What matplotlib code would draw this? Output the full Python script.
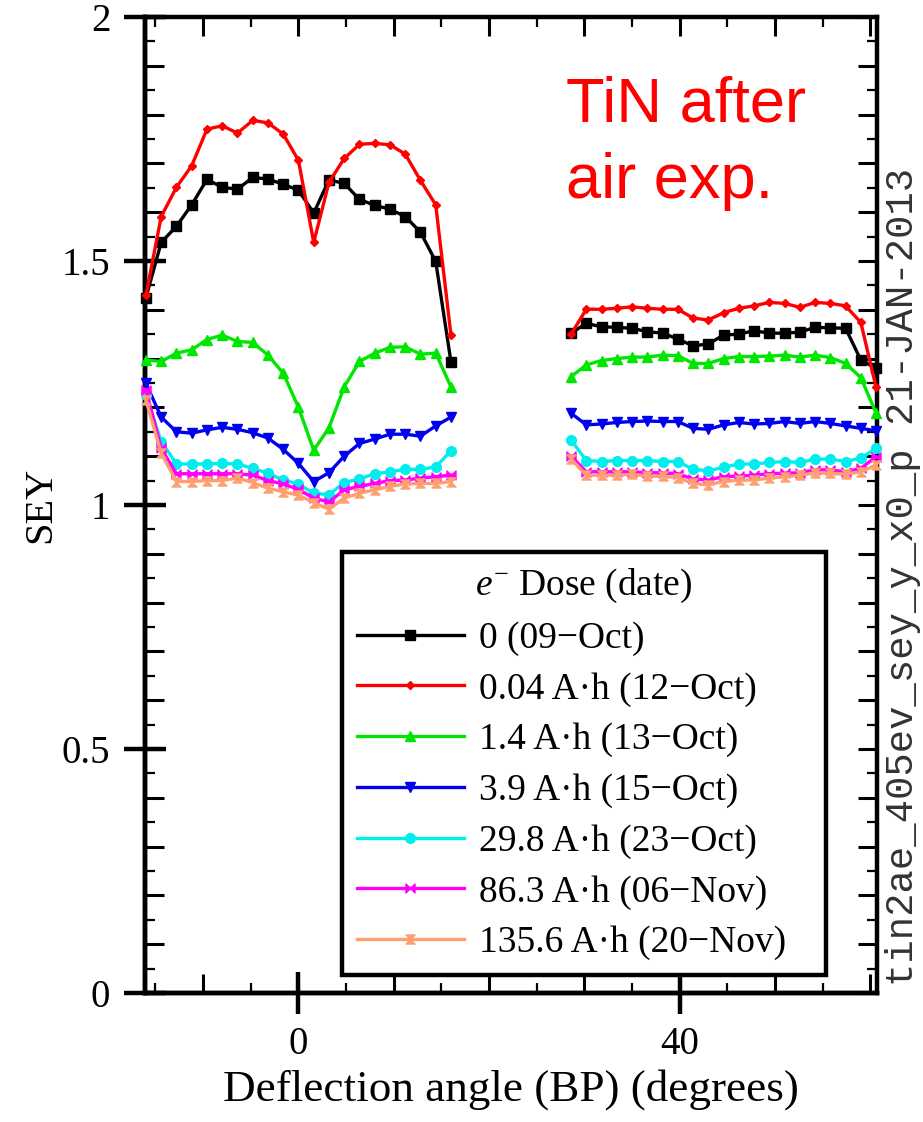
import numpy as np
import matplotlib.pyplot as plt
from matplotlib.path import Path
from matplotlib.ticker import MultipleLocator

plt.rcParams['font.family'] = ['Liberation Serif', 'DejaVu Serif']
plt.rcParams['mathtext.fontset'] = 'custom'
plt.rcParams['mathtext.rm'] = 'Liberation Serif'
plt.rcParams['mathtext.it'] = 'Liberation Serif:italic'

# scan positions (deflection angle, degrees)
x_left = [-16.0, -14.4, -12.8, -11.2, -9.6, -8.0, -6.4, -4.8, -3.2, -1.6, 0.0,
          1.6, 3.2, 4.8, 6.4, 8.0, 9.6, 11.2, 12.8, 14.4, 16.0]
x_right = [28.6, 30.2, 31.8, 33.4, 35.0, 36.6, 38.2, 39.8, 41.4, 43.0, 44.6,
           46.2, 47.8, 49.4, 51.0, 52.6, 54.2, 55.8, 57.4, 59.0, 60.6]

labels = ['0 (09\u2212Oct)', '0.04 A\u00b7h (12\u2212Oct)', '1.4 A\u00b7h (13\u2212Oct)',
          '3.9 A\u00b7h (15\u2212Oct)', '29.8 A\u00b7h (23\u2212Oct)',
          '86.3 A\u00b7h (06\u2212Nov)', '135.6 A\u00b7h (20\u2212Nov)']

sey_left = [
    [1.425, 1.538, 1.571, 1.615, 1.667, 1.651, 1.647, 1.671, 1.668, 1.657, 1.645,
     1.598, 1.666, 1.659, 1.626, 1.614, 1.606, 1.591, 1.559, 1.499, 1.293],
    [1.430, 1.591, 1.651, 1.695, 1.770, 1.777, 1.762, 1.788, 1.783, 1.760, 1.706,
     1.538, 1.661, 1.710, 1.739, 1.741, 1.738, 1.719, 1.665, 1.615, 1.348],
    [1.297, 1.294, 1.311, 1.318, 1.339, 1.348, 1.335, 1.333, 1.307, 1.270, 1.200,
     1.112, 1.158, 1.242, 1.294, 1.311, 1.323, 1.324, 1.309, 1.311, 1.242],
    [1.249, 1.180, 1.150, 1.147, 1.154, 1.159, 1.155, 1.148, 1.137, 1.114, 1.085,
     1.048, 1.066, 1.100, 1.126, 1.135, 1.145, 1.145, 1.141, 1.162, 1.180],
    [1.225, 1.130, 1.084, 1.084, 1.084, 1.085, 1.084, 1.075, 1.065, 1.051, 1.043,
     1.024, 1.021, 1.046, 1.053, 1.064, 1.068, 1.073, 1.073, 1.078, 1.111],
    [1.236, 1.116, 1.064, 1.064, 1.064, 1.064, 1.064, 1.061, 1.050, 1.043, 1.032,
     1.014, 1.006, 1.031, 1.038, 1.044, 1.050, 1.051, 1.055, 1.058, 1.061],
    [1.215, 1.106, 1.048, 1.048, 1.050, 1.050, 1.055, 1.046, 1.034, 1.027, 1.020,
     1.005, 0.991, 1.014, 1.024, 1.031, 1.038, 1.043, 1.044, 1.044, 1.048],
]

sey_right = [
    [1.352, 1.372, 1.365, 1.364, 1.362, 1.355, 1.352, 1.340, 1.326, 1.330, 1.348,
     1.350, 1.357, 1.352, 1.352, 1.354, 1.364, 1.363, 1.362, 1.297, 1.280],
    [1.350, 1.401, 1.401, 1.403, 1.406, 1.403, 1.401, 1.401, 1.383, 1.379, 1.394,
     1.403, 1.408, 1.415, 1.413, 1.405, 1.415, 1.413, 1.408, 1.374, 1.241],
    [1.263, 1.287, 1.296, 1.300, 1.303, 1.303, 1.307, 1.306, 1.290, 1.290, 1.300,
     1.304, 1.304, 1.305, 1.307, 1.303, 1.307, 1.302, 1.290, 1.261, 1.188],
    [1.188, 1.164, 1.166, 1.169, 1.171, 1.172, 1.171, 1.171, 1.157, 1.155, 1.164,
     1.169, 1.166, 1.167, 1.171, 1.167, 1.171, 1.167, 1.162, 1.157, 1.152],
    [1.133, 1.091, 1.089, 1.091, 1.091, 1.091, 1.089, 1.089, 1.073, 1.070, 1.077,
     1.084, 1.084, 1.087, 1.089, 1.087, 1.094, 1.094, 1.089, 1.096, 1.116],
    [1.100, 1.068, 1.068, 1.068, 1.068, 1.066, 1.066, 1.064, 1.053, 1.051, 1.058,
     1.059, 1.061, 1.064, 1.065, 1.066, 1.072, 1.072, 1.068, 1.075, 1.099],
    [1.094, 1.061, 1.061, 1.061, 1.063, 1.059, 1.059, 1.056, 1.044, 1.041, 1.048,
     1.051, 1.051, 1.055, 1.058, 1.061, 1.066, 1.065, 1.063, 1.068, 1.082],
]

# bowtie / hourglass markers
bowtie = Path([(-1, -1), (1, 1), (1, -1), (-1, 1), (-1, -1)],
              [Path.MOVETO, Path.LINETO, Path.LINETO, Path.LINETO, Path.CLOSEPOLY])
hourglass = Path([(-1, 1), (1, 1), (-1, -1), (1, -1), (-1, 1)],
                 [Path.MOVETO, Path.LINETO, Path.LINETO, Path.LINETO, Path.CLOSEPOLY])

colors = ['black', '#ff0000', '#00e600', '#0000ee', '#00eeee', '#ff00ff', '#ff9f70']
markers = ['s', 'D', '^', 'v', 'o', bowtie, hourglass]
msizes = [7, 4.5, 7, 7, 7, 6.5, 6.5]

fig = plt.figure(figsize=(9.23, 11.22), dpi=100)
ax = fig.add_axes([0.1571, 0.1150, 0.7931, 0.8699])

for i in range(len(labels)):
    ax.plot(x_left, sey_left[i], color=colors[i], marker=markers[i], ms=msizes[i],
            lw=2.4, label=labels[i], clip_on=False, zorder=3 + i * 0.01)
    ax.plot(x_right, sey_right[i], color=colors[i], marker=markers[i], ms=msizes[i],
            lw=2.4, clip_on=False, zorder=3 + i * 0.01)

ax.set_xlim(-16.1, 60.7)
ax.set_ylim(0, 2)

for s in ax.spines.values():
    s.set_linewidth(3.2)

# inner ticks: 10 deg / 0.1 and 5 deg / 0.05
ax.xaxis.set_major_locator(MultipleLocator(10))
ax.xaxis.set_minor_locator(MultipleLocator(5))
ax.yaxis.set_major_locator(MultipleLocator(0.1))
ax.yaxis.set_minor_locator(MultipleLocator(0.05))
ax.tick_params(which='major', direction='in', length=14, width=2.2,
               top=True, right=True, labelbottom=False, labelleft=False)
ax.tick_params(which='minor', direction='in', length=7, width=1.6,
               top=True, right=True)

# labelled ticks crossing the frame
secx = ax.secondary_xaxis('bottom')
secx.set_xticks([0, 40])
secx.set_xticklabels(['0', '40'])
secx.tick_params(direction='inout', length=30, width=3.2, labelsize=28, pad=9)
secx.spines['bottom'].set_linewidth(3.2)
secx.set_xlabel('Deflection angle (BP) (degrees)', fontsize=32.5, labelpad=4)

secy = ax.secondary_yaxis('left')
secy.set_yticks([0, 0.5, 1, 1.5, 2])
secy.set_yticklabels(['0', '0.5', '1', '1.5', '2'])
secy.tick_params(direction='inout', length=30, width=3.2, labelsize=28, pad=10)
secy.spines['left'].set_linewidth(3.2)
secy.set_ylabel('SEY', fontsize=29, labelpad=2)

leg = ax.legend(loc='lower left', bbox_to_anchor=(0.269, 0.018, 0.661, 0.435),
                mode='expand', borderaxespad=0,
                title='$e^{-}$ Dose (date)', fontsize=27, title_fontsize=27,
                handlelength=2.85, handletextpad=0.4, labelspacing=0.43,
                borderpad=0.4, fancybox=False, framealpha=1, edgecolor='black')
leg.get_frame().set_linewidth(3.2)

ax.text(0.575, 0.94, 'TiN after\nair exp.', transform=ax.transAxes,
        color='#ff0000', fontsize=45.5, family='Liberation Sans',
        ha='left', va='top', linespacing=1.37)

fig.text(0.978, 0.486, 'tin2ae_405ev_sey_y_x0_p 21-JAN-2013', rotation=90,
         family='Liberation Mono', fontsize=28, color='#333333',
         ha='center', va='center')

fig.savefig('out.png', dpi=100)
